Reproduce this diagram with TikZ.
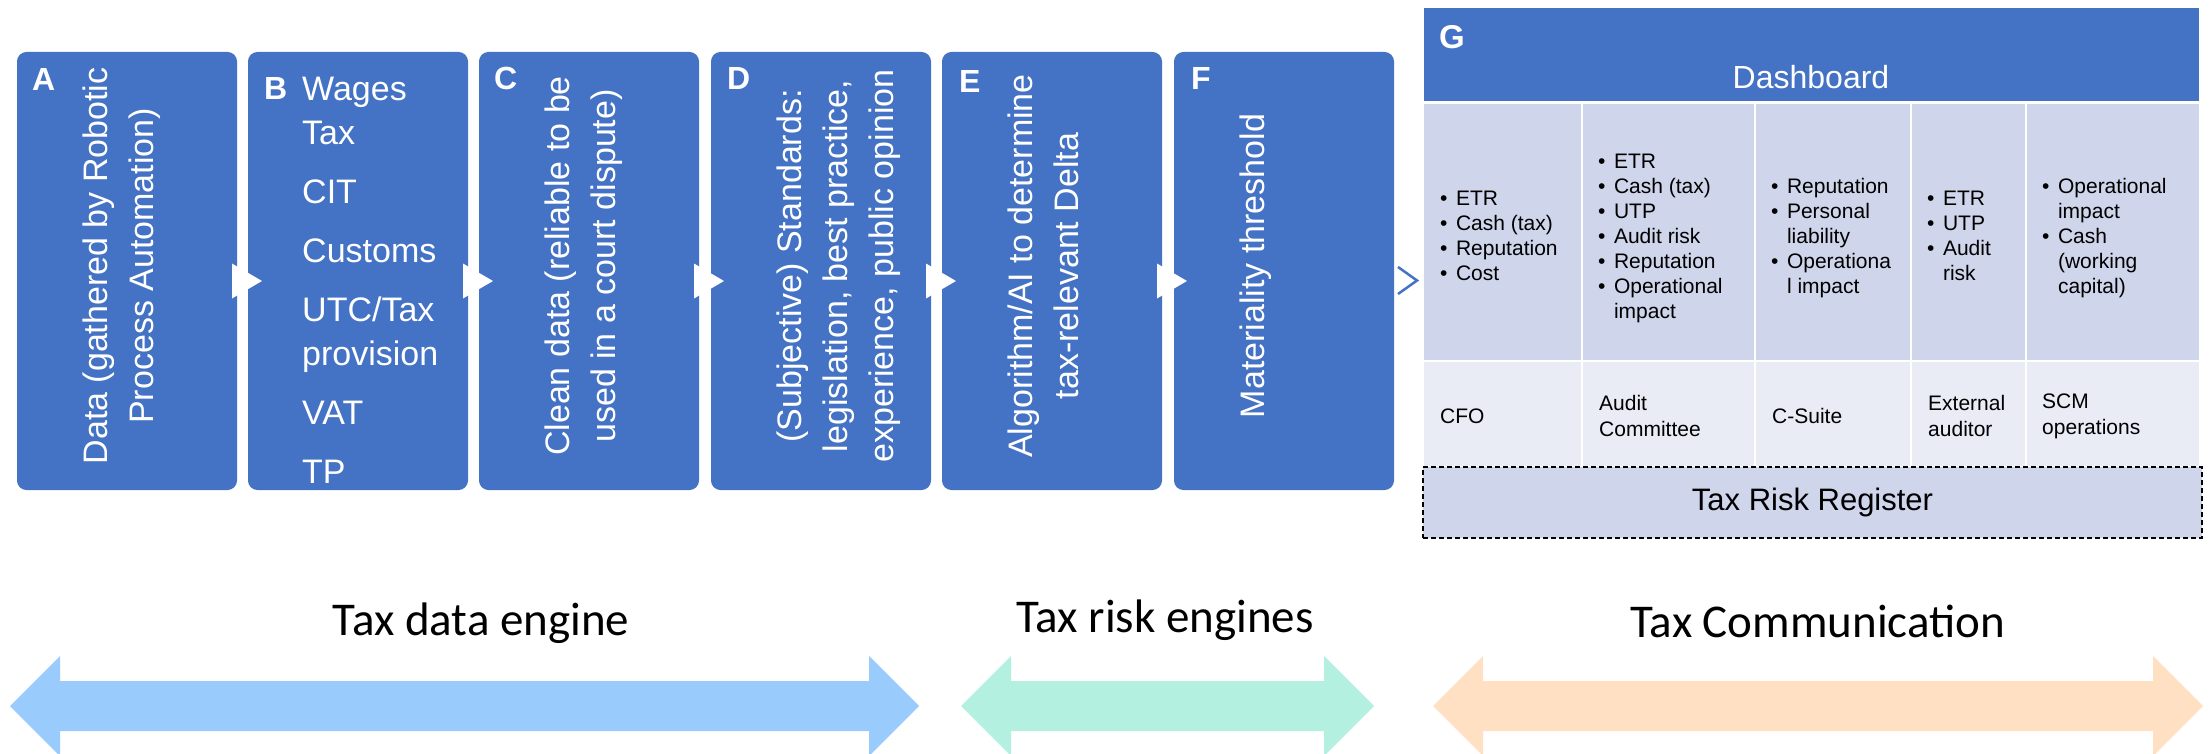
\documentclass[tikz,border=0pt]{standalone}
\usepackage{fontspec}
\setmainfont{Liberation Sans}
\newfontfamily\calib{Carlito}
\definecolor{boxblue}{HTML}{4472C4}
\definecolor{bandA}{HTML}{CFD5EA}
\definecolor{bandB}{HTML}{E9EBF5}
\definecolor{arrblue}{HTML}{9ACBFD}
\definecolor{arrmint}{HTML}{B3F0DF}
\definecolor{arrpeach}{HTML}{FFE0C2}
\tikzset{
  stepbox/.style={fill=boxblue, draw=boxblue, line width=1pt, rounded corners=9pt,
    minimum width=219pt, minimum height=437pt, inner sep=0pt, anchor=north west},
  steplabel/.style={anchor=north west, inner sep=0pt, text=white,
    font=\fontsize{32}{38}\selectfont\bfseries},
  vtext/.style={rotate=90, anchor=north, inner sep=0pt, align=center, text=white,
    font=\fontsize{34}{46}\selectfont},
  chev/.style={fill=white},
  openchev/.style={draw=boxblue, line width=2.5pt, line join=miter},
  listcell/.style={anchor=west, inner sep=0pt, font=\fontsize{21}{25}\selectfont},
  rolecell/.style={anchor=west, inner sep=0pt, align=left, font=\fontsize{21}{26}\selectfont},
  sep/.style={white, line width=2.5pt},
  band/.style={font=\calib\fontsize{47}{56}\selectfont, anchor=base, inner sep=0pt}
}
\begin{document}
\begin{tikzpicture}[x=1pt,y=-1pt]
\useasboundingbox (0,0) rectangle (2211,754);
\clip (0,0) rectangle (2211,754);
\fill[white] (0,0) rectangle (2211,754);

% ---- process steps A-F ----
\node[stepbox] (A) at (17,52) {};
\node[stepbox] (B) at (248,52) {};
\node[stepbox] (C) at (479,52) {};
\node[stepbox] (D) at (711,52) {};
\node[stepbox] (E) at (942,52) {};
\node[stepbox] (F) at (1174,52) {};

\node[steplabel] (la) at ([xshift=15pt,yshift=-16pt]A.north west) {A};
\node[steplabel] (lb) at ([xshift=16pt,yshift=-25pt]B.north west) {B};
\node[steplabel] (lc) at ([xshift=15pt,yshift=-15pt]C.north west) {C};
\node[steplabel] (ld) at ([xshift=16pt,yshift=-15pt]D.north west) {D};
\node[steplabel] (le) at ([xshift=17pt,yshift=-18pt]E.north west) {E};
\node[steplabel] (lf) at ([xshift=17pt,yshift=-15pt]F.north west) {F};

\node[vtext] (ta) at ([xshift=66pt,yshift=5pt]A.west)
  {Data (gathered by Robotic\\Process Automation)};
\begin{scope}
\clip[rounded corners=9pt] (B.north west) rectangle (B.south east);
\node[anchor=north west, inner sep=0pt, align=left, text=white,
  font=\fontsize{34}{44}\selectfont] (tb) at ([xshift=54pt,yshift=-25pt]B.north west)
  {Wages\\Tax\\[15pt]CIT\\[15pt]Customs\\[15pt]UTC/Tax\\provision\\[15pt]VAT\\[15pt]TP};
\end{scope}
\node[vtext] (tc) at ([xshift=66pt,yshift=5pt]C.west)
  {Clean data (reliable to be\\used in a court dispute)};
\node[vtext] (td) at ([xshift=66pt,yshift=5pt]D.west)
  {(Subjective) Standards:\\legislation, best practice,\\experience, public opinion};
\node[vtext] (te) at ([xshift=66pt,yshift=5pt]E.west)
  {Algorithm/AI to determine\\tax-relevant Delta};
\node[vtext] (tf) at ([xshift=66pt,yshift=5pt]F.west)
  {Materiality threshold};

% chevrons between the steps
\fill[chev] ([xshift=-5pt,yshift=7.5pt]A.east) -- ++(30,17.5) -- ++(-30,17.5) -- cycle;
\fill[chev] ([xshift=-5pt,yshift=7.5pt]B.east) -- ++(30,17.5) -- ++(-30,17.5) -- cycle;
\fill[chev] ([xshift=-5pt,yshift=7.5pt]C.east) -- ++(30,17.5) -- ++(-30,17.5) -- cycle;
\fill[chev] ([xshift=-5pt,yshift=7.5pt]D.east) -- ++(30,17.5) -- ++(-30,17.5) -- cycle;
\fill[chev] ([xshift=-5pt,yshift=7.5pt]E.east) -- ++(30,17.5) -- ++(-30,17.5) -- cycle;

% ---- dashboard G ----
\node[fill=boxblue, minimum width=775pt, minimum height=93pt, inner sep=0pt,
  anchor=north west] (G) at (1424,8) {};
\node[steplabel, font=\fontsize{33}{38}\selectfont\bfseries] (lg) at (1439,25) {G};
\node[text=white, font=\fontsize{32}{38}\selectfont, anchor=base, inner sep=0pt]
  (dash) at (1811,89) {Dashboard};

\fill[bandA] (1424,104) rectangle (2199,361);
\fill[bandB] (1424,361) rectangle (2199,466);
\draw[sep] (1424,361) -- (2199,361);
\draw[sep] (1582,104) -- (1582,466);
\draw[sep] (1755,104) -- (1755,466);
\draw[sep] (1911,104) -- (1911,466);
\draw[sep] (2026,104) -- (2026,466);

% arrow from the last step into the dashboard
\draw[openchev] ([xshift=4pt,yshift=4pt]F.east) -- ++(19,13.5) -- ++(-19,13.5);

\node[listcell] (g1) at (1440,238) {\begin{tabular}{@{}l@{\hspace{8.5pt}}l@{}}
  \textbullet & ETR\\ \textbullet & Cash (tax)\\ \textbullet & Reputation\\ \textbullet & Cost\end{tabular}};
\node[listcell] (g2) at (1598,238) {\begin{tabular}{@{}l@{\hspace{8.5pt}}l@{}}
  \textbullet & ETR\\ \textbullet & Cash (tax)\\ \textbullet & UTP\\ \textbullet & Audit risk\\
  \textbullet & Reputation\\ \textbullet & Operational\\ & impact\end{tabular}};
\node[listcell] (g3) at (1771,238) {\begin{tabular}{@{}l@{\hspace{8.5pt}}l@{}}
  \textbullet & Reputation\\ \textbullet & Personal\\ & liability\\ \textbullet & Operationa\\
  & l impact\end{tabular}};
\node[listcell] (g4) at (1927,238) {\begin{tabular}{@{}l@{\hspace{8.5pt}}l@{}}
  \textbullet & ETR\\ \textbullet & UTP\\ \textbullet & Audit\\ & risk\end{tabular}};
\node[listcell] (g5) at (2042,238) {\begin{tabular}{@{}l@{\hspace{8.5pt}}l@{}}
  \textbullet & Operational\\ & impact\\ \textbullet & Cash\\ & (working\\ & capital)\end{tabular}};

\node[rolecell] (r1) at (1440,416) {CFO};
\node[rolecell] (r2) at (1599,416) {Audit\\Committee};
\node[rolecell] (r3) at (1772,416) {C-Suite};
\node[rolecell] (r4) at (1928,416) {External\\auditor};
\node[rolecell] (r5) at (2042,416) {SCM\\operations};

\node[fill=bandA, draw=black, line width=2pt, dash pattern=on 5pt off 3pt,
  minimum width=779pt, minimum height=71pt, inner sep=0pt, anchor=north west,
  font=\fontsize{31}{36}\selectfont] (reg) at (1422,466) {Tax Risk Register};

% ---- engine bands ----
\fill[arrblue] (10,706) -- (60,656) -- (60,681) -- (869,681) -- (869,656) -- (919,706)
  -- (869,756) -- (869,731) -- (60,731) -- (60,756) -- cycle;
\fill[arrmint] (961,706) -- (1011,656) -- (1011,681) -- (1324,681) -- (1324,656) -- (1374,706)
  -- (1324,756) -- (1324,731) -- (1011,731) -- (1011,756) -- cycle;
\fill[arrpeach] (1433,706) -- (1483,656) -- (1483,681) -- (2153,681) -- (2153,656) -- (2203,706)
  -- (2153,756) -- (2153,731) -- (1483,731) -- (1483,756) -- cycle;

\node[band] (n1) at (481,635) {Tax data engine};
\node[band] (n2) at (1165,632) {Tax risk engines};
\node[band] (n3) at (1818,637) {Tax Communication};
\end{tikzpicture}
\end{document}
